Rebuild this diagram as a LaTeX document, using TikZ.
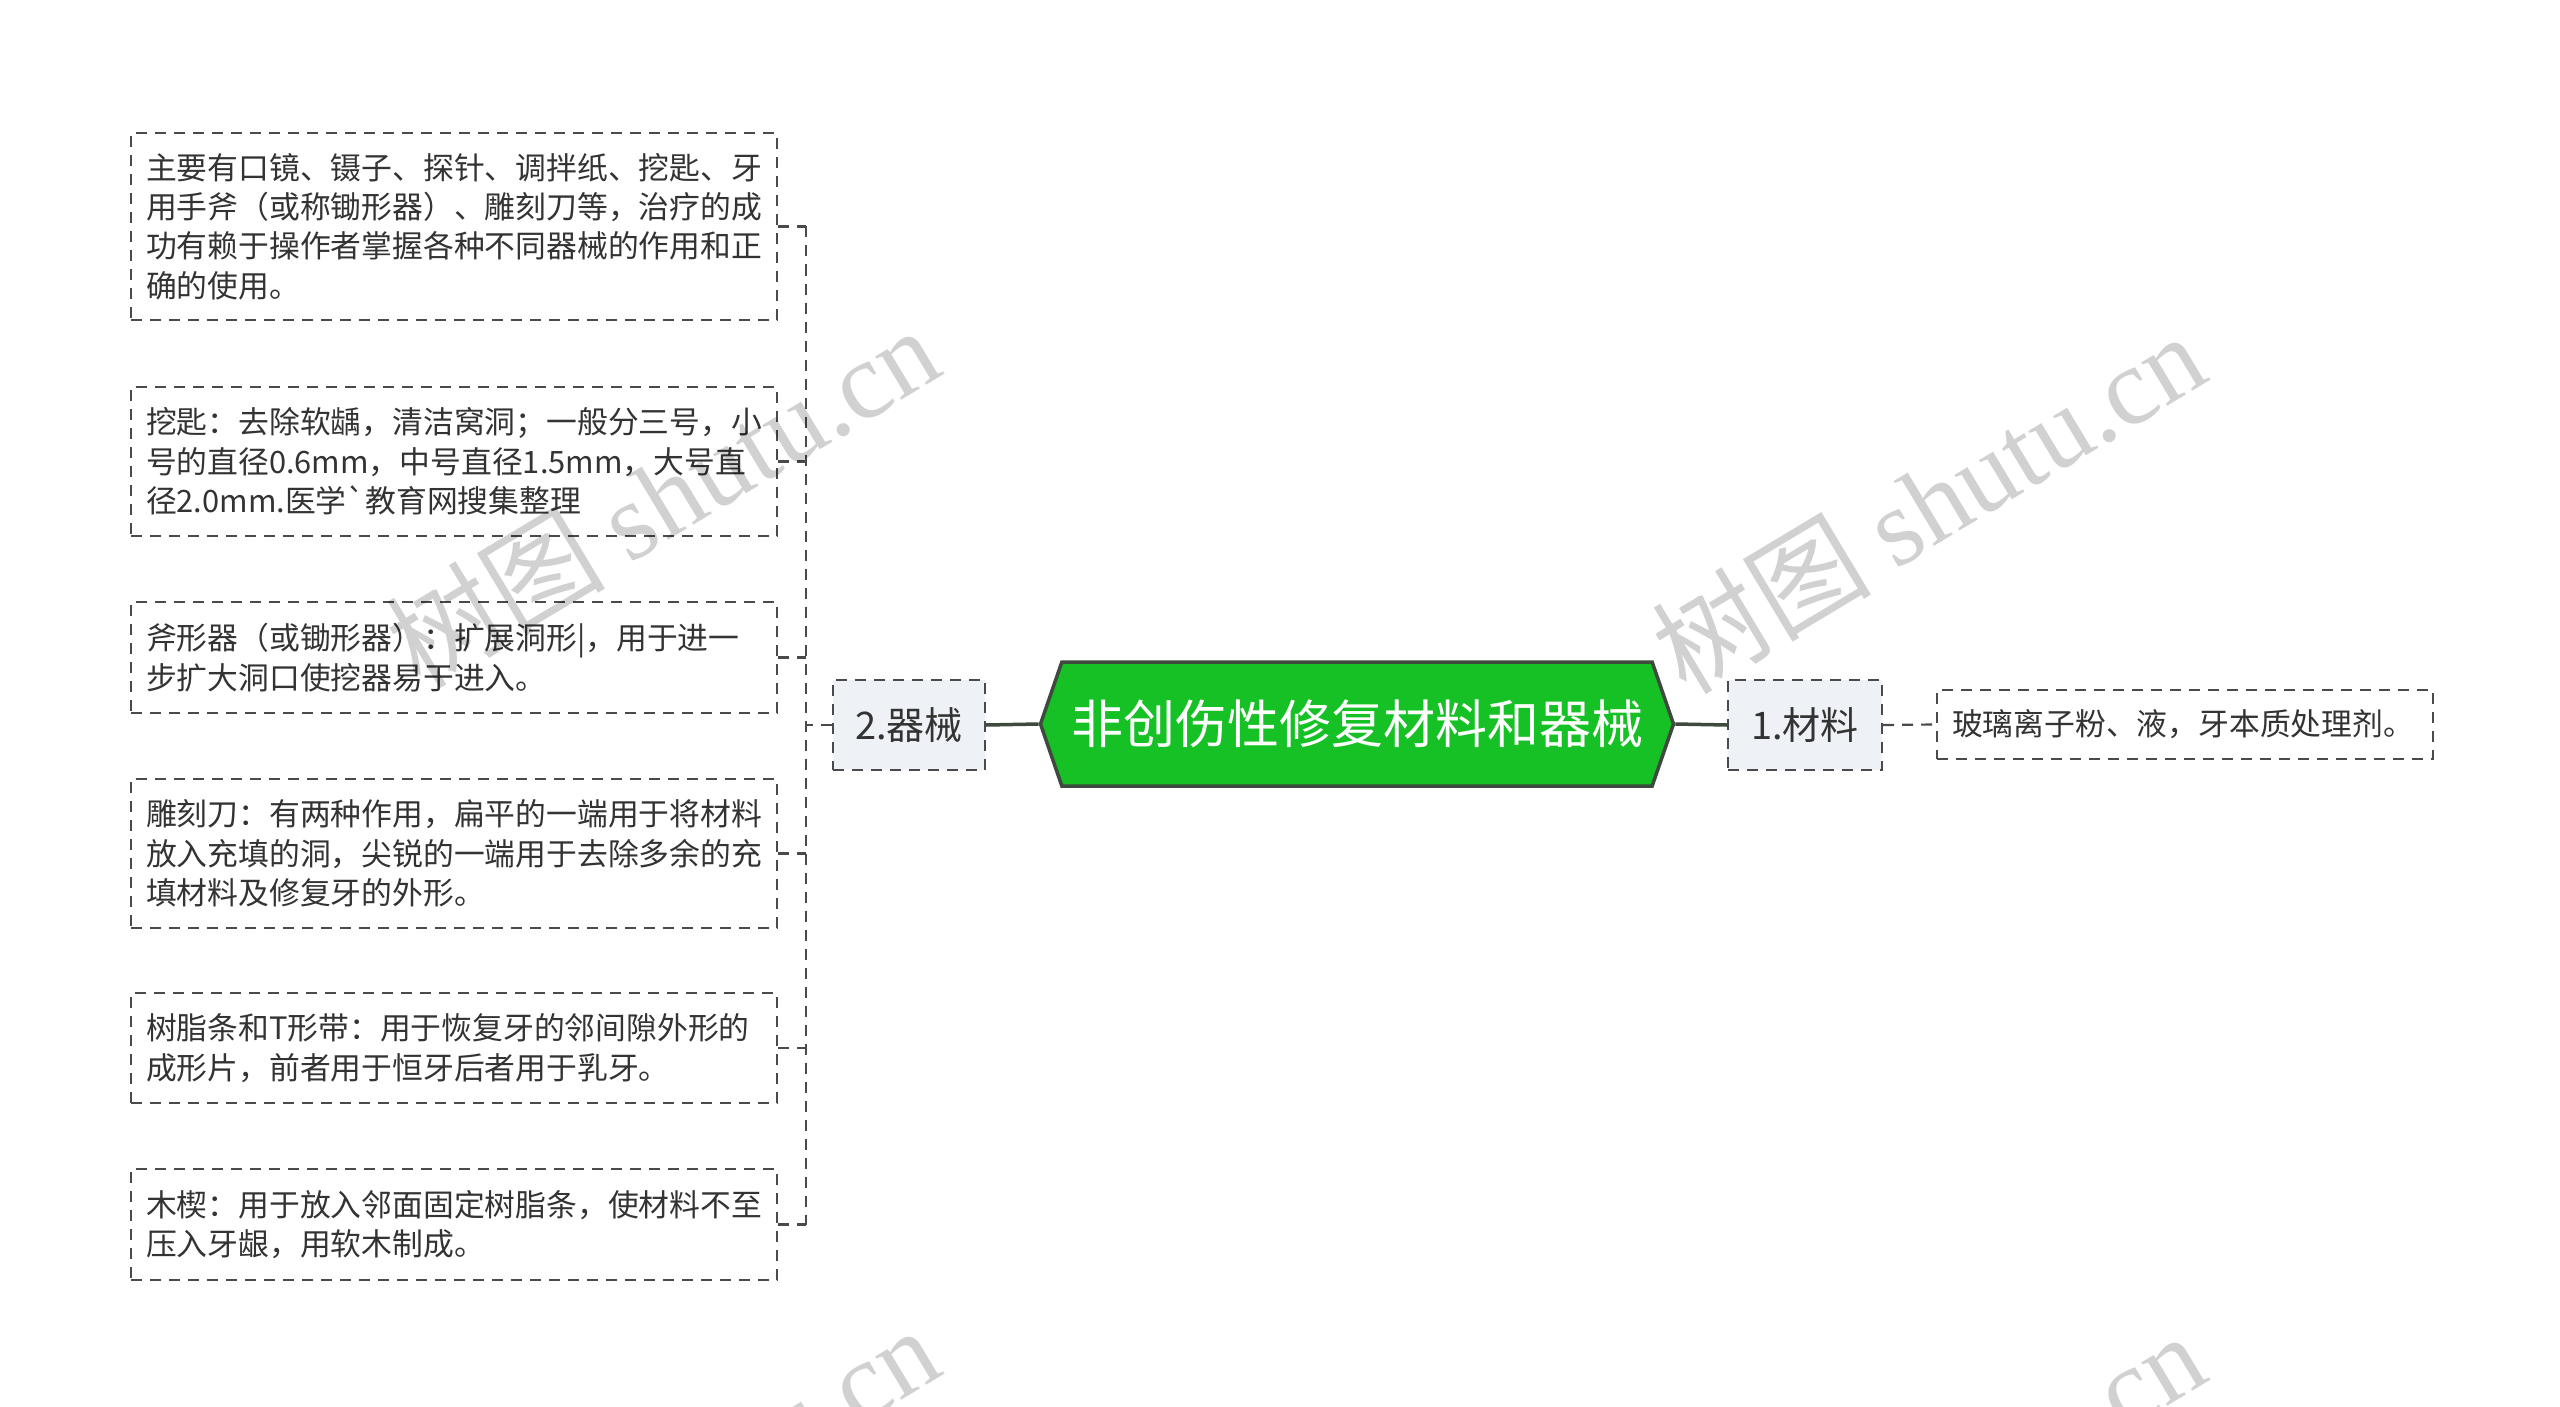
\documentclass[tikz,border=0pt]{standalone}
\usepackage{fontspec}
\setmainfont{Noto Sans CJK SC}
\newfontfamily\rawfont[Ligatures=TeXOff]{Noto Sans CJK SC}
\newfontfamily\wmserif{Liberation Serif}
\newfontfamily\wmcjk{Noto Sans CJK SC}
\usetikzlibrary{shapes.symbols}
\definecolor{cgreen}{HTML}{16C125}
\definecolor{cborder}{HTML}{3E4A3E}
\definecolor{ctext}{HTML}{333333}
\definecolor{cdash}{HTML}{4A4A4A}
\definecolor{cbranch}{HTML}{EEF1F5}
\tikzset{
  dashline/.style={draw=cdash, line width=2.2pt, dash pattern=on 11pt off 8pt},
  leafbox/.style={dashline, fill=white, text=ctext, font=\fontsize{30.8}{39.3}\selectfont,
    text width=616pt, align=left, inner xsep=15pt, inner ysep=0pt},
  branchbox/.style={dashline, fill=cbranch, text=ctext, font=\fontsize{38}{44}\selectfont,
    minimum height=90pt, inner sep=0pt},
  rootbox/.style={signal, signal to=west and east, signal pointer angle=142,
    draw=cborder, line width=3.5pt, fill=cgreen, text=white,
    font=\fontsize{52}{60}\selectfont, minimum width=633pt, minimum height=124pt, inner sep=0pt},
  solidlink/.style={draw=cborder, line width=3.5pt},
  wm/.style={rotate=31, text=black, text opacity=0.18, font=\fontsize{110}{115}\selectfont}
}
\begin{document}
\begin{tikzpicture}[x=1pt,y=-1pt]
\useasboundingbox (0,0) rectangle (2560,1407);
\clip (0,0) rectangle (2560,1407);
\fill[white] (0,0) rectangle (2560,1407);

% root
\node[rootbox] (root) at (1357,724) {非创伤性修复材料和器械};

% branches
\node[branchbox, minimum width=152pt] (b2) at (909,725) {2.器械};
\node[branchbox, minimum width=154pt] (b1) at (1805,725) {1.材料};

% right leaf
\node[leafbox, text width=466pt, minimum height=69pt] (r1) at (2185,724.5) {玻璃离子粉、液，牙本质处理剂。};

% left leaves
\node[leafbox, minimum height=187pt] (l1) at (454,226.5) {主要有口镜、镊子、探针、调拌纸、挖匙、牙\\用手斧（或称锄形器）、雕刻刀等，治疗的成\\功有赖于操作者掌握各种不同器械的作用和正\\确的使用。};
\node[leafbox, minimum height=149pt] (l2) at (454,461.5) {挖匙：去除软龋，清洁窝洞；一般分三号，小\\号的直径0.6mm，中号直径1.5mm，大号直\\径2.0mm.医学{\rawfont\symbol{96}}教育网搜集整理};
\node[leafbox, minimum height=111pt] (l3) at (454,657.5) {斧形器（或锄形器）：扩展洞形|，用于进一\\步扩大洞口使挖器易于进入。};
\node[leafbox, minimum height=149pt] (l4) at (454,853.5) {雕刻刀：有两种作用，扁平的一端用于将材料\\放入充填的洞，尖锐的一端用于去除多余的充\\填材料及修复牙的外形。};
\node[leafbox, minimum height=110pt] (l5) at (454,1048) {树脂条和T形带：用于恢复牙的邻间隙外形的\\成形片，前者用于恒牙后者用于乳牙。};
\node[leafbox, minimum height=111pt] (l6) at (454,1224.5) {木楔：用于放入邻面固定树脂条，使材料不至\\压入牙龈，用软木制成。};

% connectors
\draw[solidlink] (b2.east) -- (root.west);
\draw[solidlink] (root.east) -- (b1.west);
\draw[dashline] (b1.east) -- (r1.west);

\coordinate (busT) at (806,226.5);
\coordinate (busB) at (806,1224.5);
\coordinate (busM) at (806,725);
\draw[dashline] (b2.west) -- (busM);
\draw[dashline] (busT) -- (busB);
\foreach \n in {l1,l2,l3,l4,l5,l6}{
  \draw[dashline] (\n.east) -- (\n.east -| busM);
}

% watermarks
\node[wm] (wm1) at (662,496) {\wmcjk 树图 \wmserif shutu.cn};
\node[wm] (wm2) at (1928,502) {\wmcjk 树图 \wmserif shutu.cn};
\node[wm] (wm3) at (662,1496) {\wmcjk 树图 \wmserif shutu.cn};
\node[wm] (wm4) at (1928,1502) {\wmcjk 树图 \wmserif shutu.cn};
\end{tikzpicture}
\end{document}
